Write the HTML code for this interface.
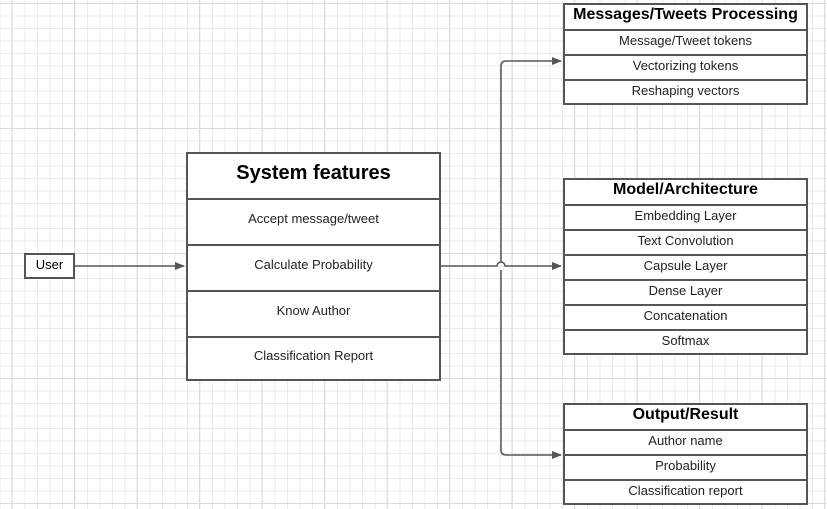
<!DOCTYPE html>
<html><head><style>
body{margin:0;width:827px;height:509px;overflow:hidden;background:#fff;font-family:"Liberation Sans",sans-serif;}
.grid{position:absolute;left:0;top:0;width:827px;height:509px;
background-image:
linear-gradient(to right,#dcdcdc 1px,transparent 1px),
linear-gradient(to bottom,#dcdcdc 1px,transparent 1px),
linear-gradient(to right,#ebebeb 1px,transparent 1px),
linear-gradient(to bottom,#ebebeb 1px,transparent 1px);
background-size:62.5px 125px,62.5px 125px,12.5px 12.5px,12.5px 12.5px;
background-position:11.5px 3px,11.5px 3px,-0.5px 3px,-0.5px 3px;}
.box{position:absolute;border:2px solid #555;background:#fff;box-sizing:border-box;}
.box div{border-top:2px solid #555;box-sizing:border-box;text-align:center;font-size:13px;color:#222;display:flex;align-items:center;justify-content:center;padding-bottom:4px;}
.box div.h{border-top:none;font-weight:bold;color:#000;padding-bottom:2px;}
</style></head><body>
<div class="grid"></div>
<svg style="position:absolute;left:0;top:0" width="827" height="509">
<defs><marker id="a" markerWidth="10" markerHeight="8" refX="9" refY="4" orient="auto" markerUnits="userSpaceOnUse"><path d="M0,0 L10,4 L0,8z" fill="#555"/></marker></defs>
<g stroke="#555" stroke-width="1.5" fill="none">
<line x1="74" y1="266" x2="184" y2="266" marker-end="url(#a)"/>
<path d="M440,266 H497 A4,4 0 0 1 505,266 H561" marker-end="url(#a)"/>
<path d="M501,262 V66 Q501,61 506,61 H561" marker-end="url(#a)"/>
<path d="M501,270 V450 Q501,455 506,455 H561" marker-end="url(#a)"/>
</g></svg>
<div class="box" style="left:24px;top:253px;width:51px;height:26px;font-size:13px;display:flex;align-items:center;justify-content:center;padding-bottom:3px;">User</div>
<div class="box" style="left:186px;top:152px;width:255px;height:229px;">
<div class="h" style="height:44px;font-size:20px;padding-bottom:6px;">System features</div>
<div style="height:46px;padding-bottom:7px;">Accept message/tweet</div>
<div style="height:46px;padding-bottom:7px;">Calculate Probability</div>
<div style="height:46px;padding-bottom:7px;">Know Author</div>
<div style="height:43px;padding-bottom:6px;">Classification Report</div>
</div>
<div class="box" style="left:563px;top:3px;width:245px;height:102px;">
<div class="h" style="height:24px;font-size:16px;padding-bottom:4px;">Messages/Tweets Processing</div>
<div style="height:25px;">Message/Tweet tokens</div>
<div style="height:25px;">Vectorizing tokens</div>
<div style="height:24px;">Reshaping vectors</div>
</div>
<div class="box" style="left:563px;top:178px;width:245px;height:177px;">
<div class="h" style="height:24px;font-size:16px;padding-bottom:4px;">Model/Architecture</div>
<div style="height:25px;">Embedding Layer</div>
<div style="height:25px;">Text Convolution</div>
<div style="height:25px;">Capsule Layer</div>
<div style="height:25px;">Dense Layer</div>
<div style="height:25px;">Concatenation</div>
<div style="height:24px;">Softmax</div>
</div>
<div class="box" style="left:563px;top:403px;width:245px;height:102px;">
<div class="h" style="height:24px;font-size:16px;padding-bottom:4px;">Output/Result</div>
<div style="height:25px;">Author name</div>
<div style="height:25px;">Probability</div>
<div style="height:24px;">Classification report</div>
</div>
</body></html>
